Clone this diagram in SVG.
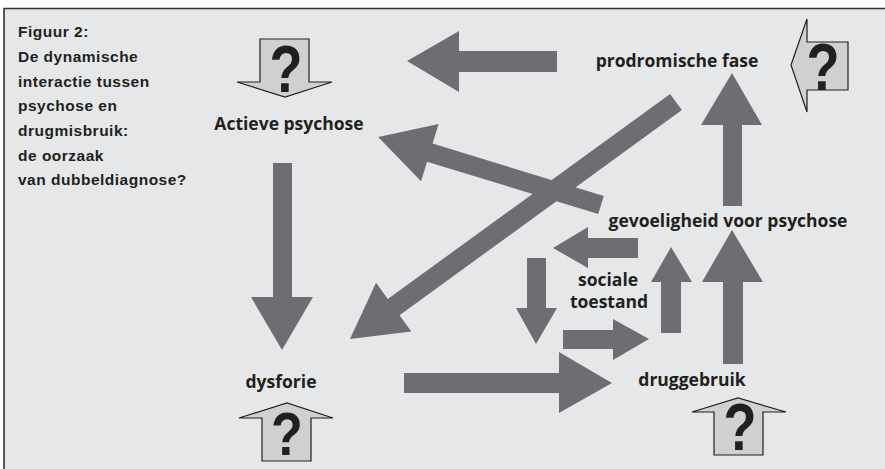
<svg xmlns="http://www.w3.org/2000/svg" width="885" height="469" viewBox="0 0 885 469">
<style>
.title{font-family:"Liberation Sans",Arial,sans-serif;font-weight:bold;font-size:15.5px;letter-spacing:0.5px;fill:#231f20}
.lbl{font-family:"Open Sans","Liberation Sans",sans-serif;font-weight:700;font-size:17.5px;fill:#231f20}
.q{font-family:"Liberation Sans",Arial,sans-serif;font-weight:bold;font-size:66px;fill:#231f20}
.qa{fill:#cfd0d2;stroke:#231f20;stroke-width:1.2;stroke-linejoin:miter}
.arr{fill:#6d6e71}
</style>
<rect x="0" y="0" width="885" height="469" fill="#ffffff"/>
<rect x="4" y="8.5" width="881" height="461" fill="#e6e7e8"/>
<path d="M4,469 V8.5 H885" fill="none" stroke="#333333" stroke-width="1.6"/>

<g id="title">
<text class="title" x="18" y="37">Figuur 2:</text>
<text class="title" x="18" y="62">De dynamische</text>
<text class="title" x="18" y="87">interactie tussen</text>
<text class="title" x="18" y="111">psychose  en</text>
<text class="title" x="18" y="136">drugmisbruik:</text>
<text class="title" x="18" y="161">de oorzaak</text>
<text class="title" x="18" y="185">van dubbeldiagnose?</text>
</g>

<g id="connectors">
<polygon class="arr" points="557,51 459,51 459,31 407,61 459,92 459,72 557,72"/>
<polygon class="arr" transform="translate(601,205) rotate(197)" points="0,-9.5 179,-9.5 179,-30 233,0 179,30 179,9.5 0,9.5"/>
<polygon class="arr" transform="translate(676,102) rotate(144)" points="0,-10 349,-10 349,-30 403,0 349,30 349,10 0,10"/>
<polygon class="arr" points="273,163 292,163 292,297 313,297 282,350 251,297 273,297"/>
<polygon class="arr" points="404,373 559,373 559,352 612,383 559,413 559,393 404,393"/>
<polygon class="arr" points="723,364 723,282 702,282 732,230 763,282 743,282 743,364"/>
<polygon class="arr" points="723,206 723,125 701,125 732,73 762,125 742,125 742,206"/>
<polygon class="arr" points="638,238 588,238 588,227 553,248 588,268 588,258 638,258"/>
<polygon class="arr" points="527,258 546,258 546,308 557,308 536,344 516,308 527,308"/>
<polygon class="arr" points="563,330 613,330 613,319 649,339 613,360 613,349 563,349"/>
<polygon class="arr" points="661,333 661,282 651,282 671,247 692,282 681,282 681,333"/>
</g>

<g id="n-actieve">
<polygon class="qa" points="260,39 309,39 309,82 332,82 285,97 237,82 260,82"/>
<text class="q" transform="translate(286,92) scale(0.82,1)" text-anchor="middle">?</text>
<text class="lbl" x="289" y="130" text-anchor="middle">Actieve psychose</text>
</g>

<g id="n-prodromisch">
<polygon class="qa" points="848,42 848,90 807,90 807,112 791,65 807,19 807,42"/>
<text class="q" transform="translate(823,90) scale(0.82,1)" text-anchor="middle">?</text>
<text class="lbl" x="677" y="67" text-anchor="middle">prodromische fase</text>
</g>

<g id="n-gevoeligheid">
<text class="lbl" x="728" y="227" text-anchor="middle">gevoeligheid voor psychose</text>
</g>

<g id="n-sociale">
<text class="lbl" x="608" y="286" text-anchor="middle">sociale</text>
<text class="lbl" x="609" y="308" text-anchor="middle">toestand</text>
</g>

<g id="n-drug">
<text class="lbl" x="692" y="386" text-anchor="middle">druggebruik</text>
<polygon class="qa" points="714,455 714,412 692,412 738,398 786,412 763,412 763,455"/>
<text class="q" transform="translate(740,450) scale(0.82,1)" text-anchor="middle">?</text>
</g>

<g id="n-dysforie">
<text class="lbl" x="281" y="388" text-anchor="middle">dysforie</text>
<polygon class="qa" points="262,461 262,418 239,418 287,403 333,418 311,418 311,461"/>
<text class="q" transform="translate(287,455) scale(0.84,1)" text-anchor="middle" style="font-size:62px">?</text>
</g>
</svg>
